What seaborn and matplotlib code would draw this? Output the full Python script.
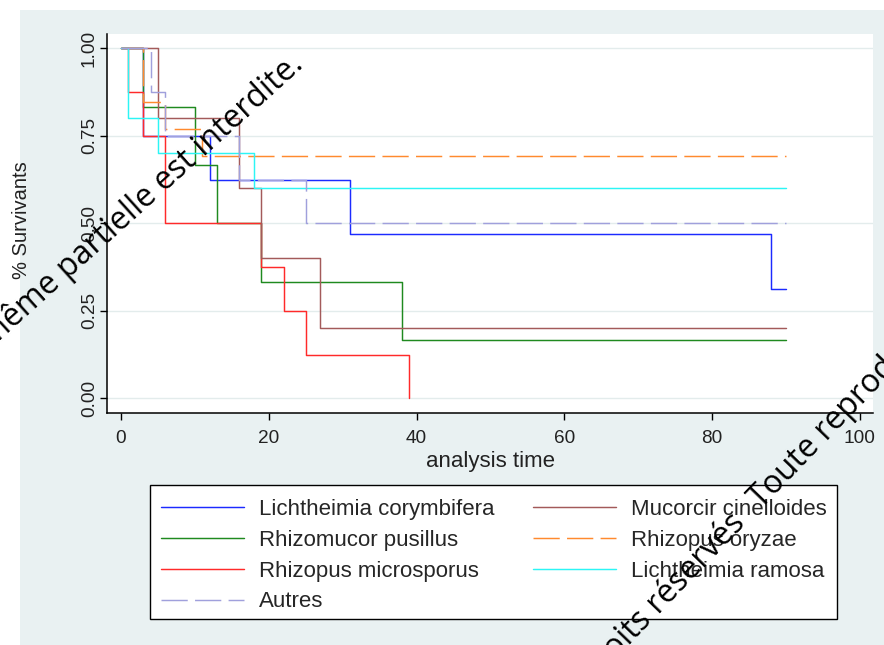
import numpy as np
import pandas as pd
import matplotlib
matplotlib.use("Agg")
import matplotlib.pyplot as plt
from matplotlib.patches import Rectangle
import seaborn as sns

# Kaplan-Meier step data per group (time, survival)
groups = ["Lichtheimia corymbifera", "Rhizomucor pusillus", "Rhizopus microsporus",
          "Mucorcir cinelloides", "Rhizopus oryzae", "Lichtheimia ramosa", "Autres"]

t_lcory = [0, 3, 12, 31, 88, 90]
s_lcory = [1.0, 0.75, 0.625, 0.469, 0.3125, 0.3125]
t_rpus = [0, 3, 10, 13, 19, 38, 90]
s_rpus = [1.0, 0.833, 0.667, 0.5, 0.333, 0.167, 0.167]
t_rmic = [0, 1, 3, 6, 19, 22, 25, 39]
s_rmic = [1.0, 0.875, 0.75, 0.5, 0.375, 0.25, 0.125, 0.0]
t_mcir = [0, 5, 16, 19, 27, 90]
s_mcir = [1.0, 0.8, 0.6, 0.4, 0.2, 0.2]
t_rory = [0, 3, 6, 11, 90]
s_rory = [1.0, 0.846, 0.769, 0.692, 0.692]
t_lram = [0, 1, 5, 18, 90]
s_lram = [1.0, 0.8, 0.7, 0.6, 0.6]
t_autres = [0, 4, 6, 16, 25, 90]
s_autres = [1.0, 0.875, 0.75, 0.625, 0.5, 0.5]

x_ticks = [0, 20, 40, 60, 80, 100]
y_ticks = [0.0, 0.25, 0.5, 0.75, 1.0]
y_ticklabels = ["0.00", "0.25", "0.50", "0.75", "1.00"]

series = {
    "Lichtheimia corymbifera": (t_lcory, s_lcory),
    "Rhizomucor pusillus": (t_rpus, s_rpus),
    "Rhizopus microsporus": (t_rmic, s_rmic),
    "Mucorcir cinelloides": (t_mcir, s_mcir),
    "Rhizopus oryzae": (t_rory, s_rory),
    "Lichtheimia ramosa": (t_lram, s_lram),
    "Autres": (t_autres, s_autres),
}
df = pd.concat(
    [pd.DataFrame({"time": t, "surv": s, "group": g}) for g, (t, s) in series.items()],
    ignore_index=True,
)

palette = {
    "Lichtheimia corymbifera": "#1c2bff",
    "Rhizomucor pusillus": "#1f8a1f",
    "Rhizopus microsporus": "#ff2a2a",
    "Mucorcir cinelloides": "#a35a5a",
    "Rhizopus oryzae": "#ff8a2e",
    "Lichtheimia ramosa": "#2cf5f5",
    "Autres": "#a0a0dc",
}
dash_map = {g: "" for g in groups}
dash_map["Rhizopus oryzae"] = (18, 5)
dash_map["Autres"] = (18, 5)

sns.set_style("white")
plt.rcParams["font.family"] = ["Liberation Sans", "DejaVu Sans"]

W, H = 884, 645
fig = plt.figure(figsize=(W / 100, H / 100), dpi=100)
fig.patch.set_facecolor("white")
fig.add_artist(Rectangle((20 / W, 0), 1 - 20 / W, 1 - 10 / H, transform=fig.transFigure,
                         facecolor="#e9f1f2", edgecolor="none", zorder=0))

ax = fig.add_axes([107 / W, 1 - 413 / H, (873 - 107) / W, (413 - 34) / H])
ax.set_facecolor("white")

sns.lineplot(data=df, x="time", y="surv", hue="group", style="group",
             hue_order=groups, style_order=groups, palette=palette, dashes=dash_map,
             estimator=None, drawstyle="steps-post", linewidth=1.05, legend=False, ax=ax)

ax.set_xlim(-1.9, 101.8)
ax.set_ylim(-0.042, 1.041)
ax.set_xticks(x_ticks)
ax.set_yticks(y_ticks)
ax.set_yticklabels(y_ticklabels, rotation=90, va="center")
ax.tick_params(axis="both", direction="out", length=5, width=1, color="black",
               labelsize=13.7, left=True, bottom=True)
ax.tick_params(axis="y", pad=1.5)
ax.tick_params(axis="x", pad=7.5)
for lab in ax.get_xticklabels() + ax.get_yticklabels():
    lab.set_color("#222222")
ax.grid(axis="y", color="#e3ecec", linewidth=1.0)
ax.set_axisbelow(True)
sns.despine(ax=ax, top=True, right=True)
for sp in ("left", "bottom"):
    ax.spines[sp].set_color("black")
    ax.spines[sp].set_linewidth(1.1)

ax.set_xlabel("analysis time", fontsize=16, color="#222222")
ax.set_ylabel("% Survivants", fontsize=14.5, color="#222222")
ax.xaxis.set_label_coords(0.5, (413 - 461) / 379)
ax.xaxis.label.set_verticalalignment("center")
ax.yaxis.set_label_coords((22 - 107) / 766, 0.51)
ax.yaxis.label.set_verticalalignment("center")

# legend: two columns, column-first fill, framed by a separate box
fig.add_artist(Rectangle((150 / W, 1 - 619 / H), (837 - 150) / W, (619 - 485) / H,
                         transform=fig.transFigure, facecolor="white",
                         edgecolor="black", linewidth=1.0, zorder=3))
lines = dict(zip(groups, ax.get_lines()[:len(groups)]))
order = ["Lichtheimia corymbifera", "Rhizomucor pusillus", "Rhizopus microsporus", "Autres",
         "Mucorcir cinelloides", "Rhizopus oryzae", "Lichtheimia ramosa"]
leg = fig.legend([lines[g] for g in order], order, ncol=2, loc="upper left",
                 bbox_to_anchor=(161 / W, 1 - 499 / H), borderaxespad=0, borderpad=0,
                 fontsize=16, handlelength=3.74, handletextpad=0.68,
                 columnspacing=1.7, labelspacing=0.44, frameon=False)
leg.set_zorder(4)

# diagonal copyright notice
wm = dict(family=["Open Sans", "DejaVu Sans"], fontsize=23, color="black",
          rotation_mode="anchor", zorder=10)
fig.text(305 / W, 1 - 66 / H,
         "Tous droits réservés Toute reproduction même partielle est interdite.",
         ha="right", va="baseline", rotation=42, **wm)
fig.text(761 / W, 1 - 509 / H, "Toute reproduction même partielle est interdite.",
         ha="left", va="baseline", rotation=46, **wm)
fig.text(746 / W, 1 - 524 / H, "Tous droits réservés",
         ha="right", va="baseline", rotation=46, **wm)

fig.savefig("out.png", dpi=100)
